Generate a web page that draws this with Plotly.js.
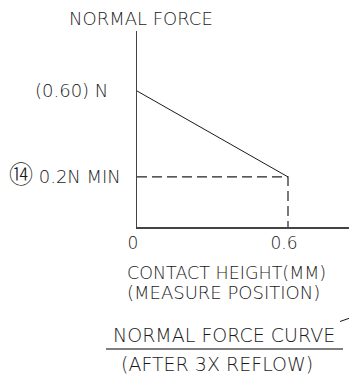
<!DOCTYPE html>
<html>
<head>
<meta charset="utf-8">
<script src="https://cdn.plot.ly/plotly-3.0.1.min.js"></script>
<style>
  html, body { margin: 0; padding: 0; background: #fff; }
  #chart { width: 349px; height: 377px; }
</style>
</head>
<body>
<div id="chart"></div>
<script>
// values
const forceX = [0, 0.6];
const forceY = [0.6, 0.2];
const minForce = 0.2;
const xTickVals = [0, 0.6];
const xTickText = ['0', '0.6'];
const yLabelVals = [0.6, 0.2];
const yLabelText = ['(0.60) N', '<span style="font-family:\'Noto Sans CJK JP\';font-size:24px">\u246D</span> 0.2N MIN'];

const xRange = [0, 0.8424];
const yRange = [-0.033, 0.879];

const ink = '#1a1a1a';
const font = { family: 'DejaVu Sans, sans-serif', size: 18, color: ink, weight: 200 };
const bigFont = Object.assign({}, font, { size: 19 });
const tickFont = Object.assign({}, font, { size: 17 });

// the curve itself
const curve = {
    x: forceX, y: forceY,
    mode: 'lines',
    line: { color: ink, width: 1 },
    hoverinfo: 'skip'
};

// dashed guide: 0.2N min level, then down to the x axis
const guide = {
    x: [0, forceX[1], forceX[1]],
    y: [minForce, minForce, yRange[0]],
    mode: 'lines',
    line: { color: '#222', width: 1.2, dash: '10px,5px' },
    hoverinfo: 'skip'
};

// paper coords helpers (plot area 137..349 x 31..227)
const px = v => (v - 137) / 212;
const py = v => (227 - v) / 196;

const annotations = [
    { text: 'NORMAL FORCE', x: px(141), y: py(19), xanchor: 'center' },
    { text: 'CONTACT HEIGHT(MM)', x: px(125), y: py(273), xanchor: 'left', font: Object.assign({}, font, { size: 17.5 }) },
    { text: '(MEASURE POSITION)', x: px(125), y: py(292), xanchor: 'left' },
    { text: 'NORMAL FORCE CURVE', x: px(224), y: py(335), xanchor: 'center', font: bigFont },
    { text: '(AFTER 3X REFLOW)', x: px(217), y: py(364), xanchor: 'center', font: bigFont }
].map(a => Object.assign({ xref: 'paper', yref: 'paper', yanchor: 'middle', showarrow: false, font: font }, a));

yLabelText.forEach((t, i) => {
    annotations.push({
        text: t, xref: 'paper', yref: 'y',
        x: px(i === 0 ? 110 : 123), y: yLabelVals[i],
        yshift: i === 0 ? 0 : 4,
        xanchor: 'right', yanchor: 'middle', showarrow: false, font: font
    });
});

const shapes = [
    // rule between title lines
    { type: 'line', xref: 'paper', yref: 'paper', x0: px(106), x1: px(343), y0: py(349), y1: py(349),
      line: { color: '#555', width: 1.5 } },
    // leader stub at right edge
    { type: 'line', xref: 'paper', yref: 'paper', x0: px(340), x1: px(350), y0: py(321.5), y1: py(318),
      line: { color: ink, width: 1 } }
];

const layout = {
    width: 349, height: 377,
    margin: { l: 137, r: 0, t: 31, b: 150 },
    paper_bgcolor: '#fff', plot_bgcolor: '#fff',
    showlegend: false,
    font: font,
    xaxis: {
        range: xRange, showgrid: false, zeroline: false,
        showline: true, linecolor: '#444', linewidth: 1.5,
        tickvals: xTickVals, ticktext: xTickText, ticks: '',
        ticklabelshift: -4,
        tickfont: tickFont, fixedrange: true
    },
    yaxis: {
        range: yRange, showgrid: false, zeroline: false,
        showline: true, linecolor: '#444', linewidth: 1.5,
        showticklabels: false, ticks: '', fixedrange: true
    },
    annotations: annotations,
    shapes: shapes
};

Plotly.newPlot('chart', [curve, guide], layout, { displayModeBar: false, staticPlot: true });
</script>
</body>
</html>
